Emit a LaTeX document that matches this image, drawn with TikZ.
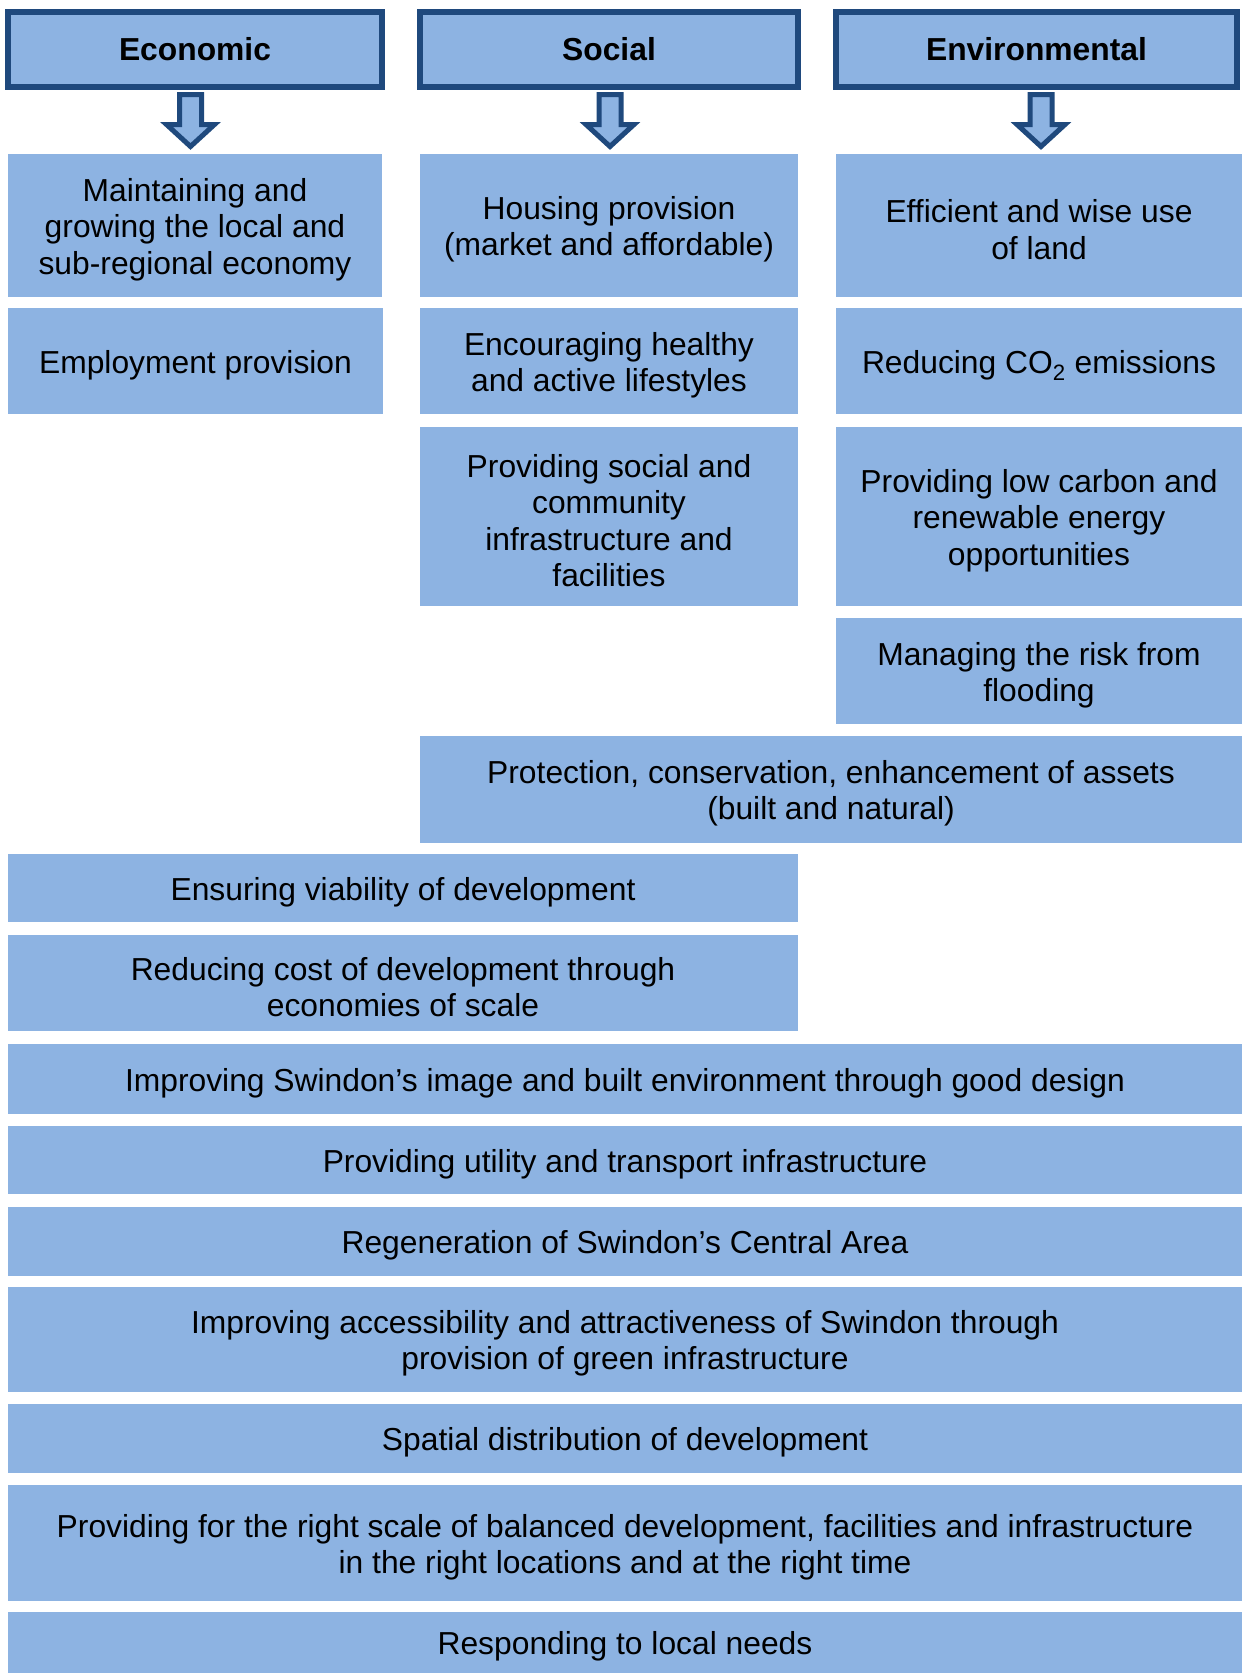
\documentclass[tikz,border=0pt]{standalone}
\usepackage{fontspec}
\setmainfont{Liberation Sans}
\definecolor{boxfill}{HTML}{8DB3E2}
\definecolor{boxline}{HTML}{1F497D}
\newcommand\mybx[6]{%
  \node[blk, minimum width={(#4-#2)*1pt}, minimum height={(#5-#3)*1pt}]
    (#1) at ({(#2+#4)/2},{(#3+#5)/2}) {};
  \node[txt] (#1t) at ([yshift=-4pt]#1.center) {#6};}
\newcommand\myhd[6]{%
  \node[hdr, minimum width={(#4-#2)*1pt}, minimum height={(#5-#3)*1pt}]
    (#1) at ({(#2+#4)/2},{(#3+#5)/2}) {#6};}
\newcommand\myarr[1]{%
  \draw[arr] ({#1-11},94.5) -- ({#1+11},94.5) -- ({#1+11},124.5) -- ({#1+24},124.5)
    -- (#1,146.5) -- ({#1-24},124.5) -- ({#1-11},124.5) -- cycle;}
\begin{document}
\begin{tikzpicture}[x=1pt,y=-1pt,
  txt/.style={font=\fontsize{31.8}{36.4}\selectfont, align=center, text=black, inner sep=0pt},
  blk/.style={fill=boxfill, draw=none, inner sep=0pt, outer sep=0pt},
  hdr/.style={txt, font=\fontsize{31.8}{36.4}\selectfont\bfseries, fill=boxfill, draw=boxline, line width=6pt, inner sep=0pt, outer sep=0pt},
  arr/.style={fill=boxfill, draw=boxline, line width=5pt, line join=miter}]
\useasboundingbox (0,0) rectangle (1242,1673);
% headers
\myhd{heco}{8}{12}{382}{87}{Economic}
\myhd{hsoc}{420}{12}{798}{87}{Social}
\myhd{henv}{836}{12}{1237}{87}{Environmental}
% arrows
\myarr{190.5}
\myarr{610}
\myarr{1041}
% economic column
\mybx{eco1}{8}{154}{382}{297}{Maintaining and\\growing the local and\\sub-regional economy}
\mybx{eco2}{8}{308}{383}{414}{Employment provision}
% social column
\mybx{soc1}{420}{154}{798}{297}{Housing provision\\(market and affordable)}
\mybx{soc2}{420}{308}{798}{414}{Encouraging healthy\\and active lifestyles}
\mybx{soc3}{420}{427}{798}{606}{Providing social and\\community\\infrastructure and\\facilities}
% environmental column
\mybx{env1}{836}{154}{1242}{297}{Efficient and wise use\\of land}
\mybx{env2}{836}{308}{1242}{414}{Reducing CO\textsubscript{2} emissions}
\mybx{env3}{836}{427}{1242}{606}{Providing low carbon and\\renewable energy\\opportunities}
\mybx{env4}{836}{618}{1242}{724}{Managing the risk from\\flooding}
% spanning boxes
\mybx{prot}{420}{736}{1242}{843}{Protection, conservation, enhancement of assets\\(built and natural)}
\mybx{viab}{8}{854}{798}{922}{Ensuring viability of development}
\mybx{cost}{8}{935}{798}{1031}{Reducing cost of development through\\economies of scale}
\mybx{imag}{8}{1044}{1242}{1114}{Improving Swindon’s image and built environment through good design}
\mybx{util}{8}{1126}{1242}{1194}{Providing utility and transport infrastructure}
\mybx{regn}{8}{1207}{1242}{1276}{Regeneration of Swindon’s Central Area}
\mybx{accs}{8}{1287}{1242}{1392}{Improving accessibility and attractiveness of Swindon through\\provision of green infrastructure}
\mybx{spat}{8}{1404}{1242}{1473}{Spatial distribution of development}
\mybx{rght}{8}{1485}{1242}{1601}{Providing for the right scale of balanced development, facilities and infrastructure\\in the right locations and at the right time}
\mybx{resp}{8}{1612}{1242}{1673}{Responding to local needs}
\end{tikzpicture}
\end{document}
